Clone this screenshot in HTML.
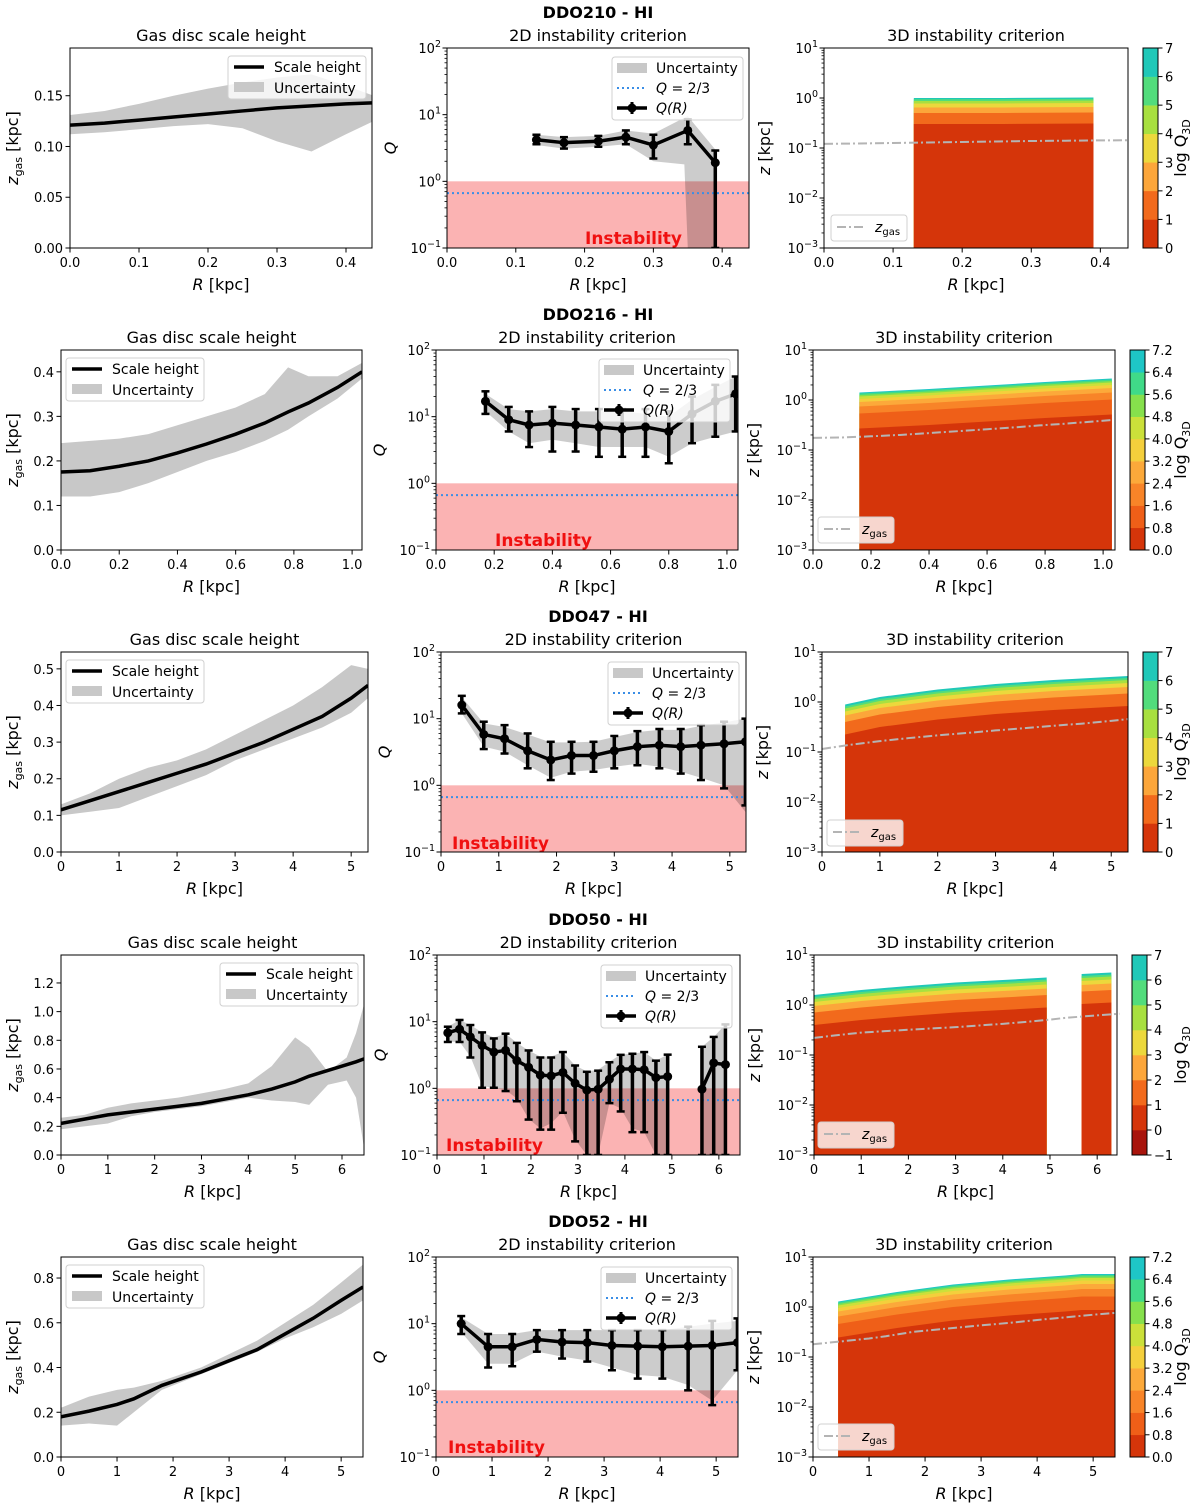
<!DOCTYPE html>
<html><head><meta charset="utf-8">
<style>
html,body{margin:0;padding:0;background:#fff;}
svg{display:block;font-family:"DejaVu Sans","Liberation Sans",sans-serif;}
</style></head>
<body>
<svg id="fig" width="1200" height="1509" viewBox="0 0 1200 1509" xmlns="http://www.w3.org/2000/svg"></svg>
<script>
// ---------- Left panels: gas scale height ----------
const L0_R=[0,0.05,0.1,0.15,0.2,0.25,0.3,0.35,0.4,0.44];
const L0_mid=[0.121,0.123,0.126,0.129,0.132,0.135,0.138,0.140,0.142,0.143];
const L0_hi=[0.131,0.135,0.142,0.150,0.157,0.163,0.168,0.171,0.160,0.150];
const L0_lo=[0.112,0.114,0.117,0.120,0.122,0.118,0.105,0.095,0.112,0.125];
const L1_R=[0,0.1,0.2,0.3,0.4,0.5,0.6,0.7,0.78,0.85,0.95,1.034];
const L1_mid=[0.175,0.178,0.188,0.2,0.218,0.238,0.26,0.285,0.31,0.33,0.365,0.40];
const L1_hi=[0.24,0.245,0.25,0.26,0.28,0.30,0.32,0.35,0.41,0.39,0.39,0.42];
const L1_lo=[0.12,0.12,0.13,0.15,0.175,0.2,0.22,0.245,0.27,0.3,0.34,0.385];
const L2_R=[0,0.5,1,1.5,2,2.5,3,3.5,4,4.5,5,5.29];
const L2_mid=[0.115,0.14,0.165,0.19,0.215,0.24,0.27,0.30,0.335,0.37,0.42,0.455];
const L2_hi=[0.13,0.16,0.20,0.23,0.25,0.28,0.32,0.36,0.40,0.45,0.51,0.50];
const L2_lo=[0.10,0.11,0.12,0.15,0.18,0.21,0.25,0.28,0.31,0.34,0.38,0.42];
const L3_R=[0,0.5,1,1.5,2,2.5,3,3.5,4,4.5,5,5.3,5.7,6.1,6.3,6.47];
const L3_mid=[0.22,0.25,0.28,0.30,0.32,0.34,0.36,0.39,0.42,0.46,0.51,0.55,0.59,0.63,0.65,0.67];
const L3_hi=[0.26,0.28,0.33,0.36,0.38,0.40,0.43,0.46,0.50,0.62,0.82,0.75,0.58,0.68,0.85,1.05];
const L3_lo=[0.18,0.20,0.22,0.27,0.30,0.32,0.34,0.37,0.40,0.38,0.37,0.35,0.49,0.52,0.40,0.05];
const L4_R=[0,0.5,1,1.3,1.8,2.5,3,3.5,4,4.5,5,5.39];
const L4_mid=[0.18,0.205,0.235,0.26,0.32,0.38,0.43,0.48,0.55,0.62,0.70,0.76];
const L4_hi=[0.22,0.27,0.30,0.31,0.34,0.40,0.46,0.52,0.60,0.68,0.78,0.86];
const L4_lo=[0.14,0.15,0.14,0.20,0.30,0.37,0.42,0.47,0.53,0.58,0.64,0.70];

// ---------- Middle panels: Q(R) ----------
const Q0_R=[0.13,0.17,0.22,0.26,0.30,0.345,0.35,0.39];
const Q0_v=[4.2,3.8,4.0,4.6,3.5,null,5.8,1.9];
const Q0_lo=[3.6,3.1,3.3,3.6,2.2,null,3.6,0.1];
const Q0_hi=[5.0,4.6,4.8,5.8,5.0,null,8.5,2.9];
const Q0_bLo=[3.5,3.1,3.3,3.6,2.0,1.8,0.1,0.1];
const Q0_bHi=[5.0,4.6,4.8,5.8,5.2,9.0,9.5,3.0];
const Q1_R=[0.17,0.25,0.32,0.40,0.48,0.56,0.64,0.72,0.80,0.88,0.96,1.03];
const Q1_v=[17,9,7.5,8,7.5,7,6.5,7,6,11,17,22];
const Q1_lo=[11,6,3.5,3,3,2.5,2.5,2.5,2,4,5,6];
const Q1_hi=[24,14,12,14,13,13,13,13,12,20,30,40];
const Q1_bLo=[12,6,4,4.5,4,3.5,3.5,3.5,2.5,4,5,6];
const Q1_bHi=[22,13,12,13,12,12,12,11,10,18,28,40];
const Q2_R=[0.36,0.74,1.1,1.5,1.9,2.26,2.64,3.0,3.4,3.78,4.15,4.5,4.9,5.27];
const Q2_v=[16,5.8,5,3.3,2.4,2.8,2.8,3.3,3.8,4,3.8,4,4.2,4.5];
const Q2_lo=[12,3.5,3,1.8,1.2,1.5,1.6,1.8,2,1.8,1.5,1.2,0.9,0.5];
const Q2_hi=[22,9,8,6,4.5,4.5,4.5,5.5,6.5,7,7,8,9,10];
const Q2_bLo=[12,3.8,3.2,2,1.3,1.6,1.7,1.9,2.1,1.9,1.6,1.3,1,0.4];
const Q2_bHi=[21,8.5,7.5,5.8,4.4,4.4,4.5,5.3,6.3,6.8,6.8,7.8,8.8,10];
const Q3_R=[0.23,0.48,0.71,0.96,1.21,1.46,1.7,1.95,2.2,2.43,2.68,2.94,3.19,3.43,3.67,3.91,4.16,4.41,4.66,4.91,null,5.64,5.89,6.14];
const Q3_v=[6.8,7.7,5.9,4.4,3.5,3.7,2.6,2.07,1.58,1.54,1.73,1.19,0.94,0.97,1.37,1.95,1.95,1.9,1.45,1.5,null,0.97,2.4,2.27];
const Q3_lo=[4.96,4.96,2.9,1.02,1.02,0.91,0.64,0.34,0.24,0.24,0.43,0.16,0.1,0.1,0.6,0.45,0.22,0.22,0.1,0.1,null,0.1,0.1,0.1];
const Q3_hi=[8.4,10.6,8.9,6.9,5.6,6.6,4.8,3.7,2.9,2.9,3.5,2.2,1.77,1.84,2.46,3.18,3.3,3.5,2.6,3.2,null,4.2,5.9,9.1];
const Q3_bLo=[5,5,3,1.1,1,0.95,0.7,0.35,0.25,0.3,0.45,0.17,0.1,0.1,0.6,0.5,0.25,0.22,0.1,0.1,null,0.1,0.1,0.1];
const Q3_bHi=[8.4,10.6,8.9,6.9,5.8,6.6,4.8,3.7,3.0,3.0,3.5,2.2,1.8,1.9,2.5,3.2,3.3,3.5,2.6,3.2,null,4.2,5.9,9.1];
const Q4_R=[0.45,0.93,1.36,1.8,2.25,2.7,3.14,3.6,4.04,4.5,4.93,5.38];
const Q4_v=[10,4.5,4.5,5.8,5.3,5.2,4.7,4.6,4.5,4.6,4.7,5.2];
const Q4_lo=[7,2.2,2.3,3.8,3,2.7,2,1.5,1.5,1,0.6,2];
const Q4_hi=[13,7,7,8,8,8,8,8,8,9,11,12];
const Q4_bLo=[7.5,2.5,2.5,3.8,3.2,2.8,2.2,1.7,1.6,1.2,0.7,2];
const Q4_bHi=[12.5,7,7,8,8,8,8,8,8,9,10,11];

// ---------- Right panels: 3D criterion ----------
const Z0_R=[0.13,0.26,0.39];
const Z0_top=[0.0,0.0,0.01];
const Z0_off=[0.52,0.30,0.19,0.11,0.06,0.025,0];
const Z1_R=[0.16,0.4,0.6,0.8,1.03];
const Z1_top=[0.15,0.22,0.29,0.36,0.43];
const Z1_off=[0.72,0.42,0.28,0.19,0.13,0.08,0.05,0.02,0];
const Z2_R=[0.4,1,2,3,4,5.29];
const Z2_top=[-0.05,0.1,0.25,0.36,0.44,0.52];
const Z2_off=[0.6,0.35,0.22,0.14,0.08,0.04,0];
const Z3_R=[0,1,2,3,4,4.93,null,5.67,6.3];
const Z3_top=[0.2,0.3,0.38,0.45,0.5,0.55,null,0.62,0.65];
const Z3_off=[9,0.6,0.35,0.22,0.14,0.08,0.04,0];
const Z4_R=[0.45,1.5,2.5,3.5,4.5,4.8,5.39];
const Z4_top=[0.11,0.3,0.45,0.55,0.63,0.66,0.66];
const Z4_off=[0.72,0.45,0.3,0.2,0.13,0.08,0.05,0.02,0];

const C7=['#d5350a','#f26a1c','#fca63a','#ecd83c','#a8e040','#52dc7c','#20c8b8'];
const C9=['#d5350a','#ef5f18','#f88428','#fca93a','#f4cf3c','#cbe03a','#86e04c','#40da88','#1ec6c6'];
const C8=['#a8140c','#d5350a','#f26a1c','#fca63a','#ecd83c','#a8e040','#52dc7c','#20c8b8'];
const CB7=['0','1','2','3','4','5','6','7'];
const CB9=['0.0','0.8','1.6','2.4','3.2','4.0','4.8','5.6','6.4','7.2'];
const CB8=['\u22121','0','1','2','3','4','5','6','7'];

const LD=[[L0_R,L0_mid,L0_hi,L0_lo],[L1_R,L1_mid,L1_hi,L1_lo],[L2_R,L2_mid,L2_hi,L2_lo],[L3_R,L3_mid,L3_hi,L3_lo],[L4_R,L4_mid,L4_hi,L4_lo]];
const QD=[[Q0_R,Q0_v,Q0_lo,Q0_hi,Q0_bLo,Q0_bHi],[Q1_R,Q1_v,Q1_lo,Q1_hi,Q1_bLo,Q1_bHi],[Q2_R,Q2_v,Q2_lo,Q2_hi,Q2_bLo,Q2_bHi],[Q3_R,Q3_v,Q3_lo,Q3_hi,Q3_bLo,Q3_bHi],[Q4_R,Q4_v,Q4_lo,Q4_hi,Q4_bLo,Q4_bHi]];
const ZD=[[Z0_R,Z0_top,Z0_off,C7,CB7],[Z1_R,Z1_top,Z1_off,C9,CB9],[Z2_R,Z2_top,Z2_off,C7,CB7],[Z3_R,Z3_top,Z3_off,C8,CB8],[Z4_R,Z4_top,Z4_off,C9,CB9]];

const ROWS=[
 {T:48,title:'DDO210 - HI',
  L:{x0:70,x1:372,xmax:0.4377,ymax:0.197,xt:[0,.1,.2,.3,.4],xd:1,yt:[0,.05,.1,.15],yd:2,leg:[228,56]},
  M:{x0:447,x1:749,xmax:0.439,leg:[612,57],inst:[585,244]},
  R:{x0:824,x1:1128,xmax:0.44,cb:1143,leg:[831,215]}},
 {T:350,title:'DDO216 - HI',
  L:{x0:61,x1:362,xmax:1.034,ymax:0.449,xt:[0,.2,.4,.6,.8,1.0],xd:1,yt:[0,.1,.2,.3,.4],yd:1,leg:[66,358]},
  M:{x0:436,x1:738,xmax:1.038,leg:[599,359],inst:[495,546]},
  R:{x0:813,x1:1115,xmax:1.041,cb:1130,leg:[818,517]}},
 {T:652,title:'DDO47 - HI',
  L:{x0:61,x1:368,xmax:5.29,ymax:0.546,xt:[0,1,2,3,4,5],xd:0,yt:[0,.1,.2,.3,.4,.5],yd:1,leg:[66,660]},
  M:{x0:441,x1:746,xmax:5.28,leg:[608,662],inst:[452,849]},
  R:{x0:822,x1:1128,xmax:5.29,cb:1143,leg:[827,820]}},
 {T:955,title:'DDO50 - HI',
  L:{x0:61,x1:364,xmax:6.47,ymax:1.395,xt:[0,1,2,3,4,5,6],xd:0,yt:[0,.2,.4,.6,.8,1.0,1.2],yd:1,leg:[220,963]},
  M:{x0:437,x1:740,xmax:6.45,leg:[601,965],inst:[446,1151]},
  R:{x0:814,x1:1117,xmax:6.42,cb:1132,leg:[818,1122]}},
 {T:1257,title:'DDO52 - HI',
  L:{x0:61,x1:363,xmax:5.39,ymax:0.894,xt:[0,1,2,3,4,5],xd:0,yt:[0,.2,.4,.6,.8],yd:1,leg:[66,1265]},
  M:{x0:436,x1:738,xmax:5.39,leg:[601,1267],inst:[448,1453]},
  R:{x0:813,x1:1115,xmax:5.39,cb:1130,leg:[818,1424]}}
];

const NS='http://www.w3.org/2000/svg';
const svg=document.getElementById('fig');
function mk(tag,attrs,parent){const e=document.createElementNS(NS,tag);for(const k in attrs)e.setAttribute(k,attrs[k]);(parent||svg).appendChild(e);return e;}
function txt(x,y,s,attrs,parent){const a=Object.assign({x:x,y:y,'font-size':14,fill:'#000'},attrs||{});const t=mk('text',a,parent);t.textContent=s;return t;}
function segs(xs){const out=[];let cur=[];xs.forEach((v,i)=>{if(v===null){if(cur.length)out.push(cur);cur=[];}else cur.push(i);});if(cur.length)out.push(cur);return out;}
function powLabel(x,y,exp,anchor,parent){
  const t=mk('text',{x:x,y:y,'font-size':13,'text-anchor':anchor,fill:'#000'},parent);
  t.appendChild(document.createTextNode('10'));
  const s=mk('tspan',{dy:-6,'font-size':9.5},t);s.textContent=exp<0?'\u2212'+(-exp):String(exp);
  return t;
}
function frame(g,x0,x1,T,B){const r=mk('rect',{x:x0,y:T,width:x1-x0,height:B-T,fill:'none',stroke:'#000','stroke-width':1},g);}
function xTicks(g,sx,ticks,dec,B){
  ticks.forEach(v=>{const x=sx(v);mk('line',{x1:x,x2:x,y1:B,y2:B+4.5,stroke:'#000'},g);
    const t=txt(x,B+19,v.toFixed(dec),{'text-anchor':'middle','font-size':13},g);});
}
function logY(g,x0,lmin,lmax,sy){
  for(let e=lmin;e<=lmax;e++){const y=sy(Math.pow(10,e));mk('line',{x1:x0-4.5,x2:x0,y1:y,y2:y,stroke:'#000'},g);
    const t=powLabel(x0-6,y+5,e,'end',g);
    if(e<lmax)for(let m=2;m<10;m++){const yy=sy(m*Math.pow(10,e));mk('line',{x1:x0-2.5,x2:x0,y1:yy,y2:yy,stroke:'#000','stroke-width':0.8},g);}}
}
function xlabel(g,cx,B,s){const t=mk('text',{x:cx,y:B+42,'font-size':16,'text-anchor':'middle'},g);
  const i=mk('tspan',{'font-style':'italic'},t);i.textContent=s;const r=mk('tspan',{},t);r.textContent=' [kpc]';
  }
function ptitle(g,cx,T,s){const t=txt(cx,T-7,s,{'text-anchor':'middle','font-size':16},g);}

ROWS.forEach((row,ri)=>{
  const T=row.T,B=T+200;
  const rowG=mk('g',{});
  
  
  const rt=txt(598,T-30,row.title,{'text-anchor':'middle','font-size':16,'font-weight':'bold'},rowG);
  

  // ===== LEFT =====
  {const c=row.L,d=LD[ri];const g=mk('g',{},rowG);
   
   const sx=v=>c.x0+v/c.xmax*(c.x1-c.x0), sy=v=>B-v/c.ymax*(B-T);
   const clip='clipL'+ri;const cp=mk('clipPath',{id:clip},g);mk('rect',{x:c.x0,y:T,width:c.x1-c.x0,height:B-T},cp);
   const R=d[0];let pts=R.map((r,i)=>sx(r)+','+sy(d[2][i]));for(let i=R.length-1;i>=0;i--)pts.push(sx(R[i])+','+sy(d[3][i]));
   const band=mk('polygon',{points:pts.join(' '),fill:'#c8c8c8','clip-path':'url(#'+clip+')'},g);
   
   const line=mk('polyline',{points:R.map((r,i)=>sx(r)+','+sy(d[1][i])).join(' '),fill:'none',stroke:'#000','stroke-width':3.5,'clip-path':'url(#'+clip+')'},g);
   
   frame(g,c.x0,c.x1,T,B);xTicks(g,sx,c.xt,c.xd,B);
   c.yt.forEach(v=>{const y=sy(v);mk('line',{x1:c.x0-4.5,x2:c.x0,y1:y,y2:y,stroke:'#000'},g);
     const t=txt(c.x0-7,y+5,v.toFixed(c.yd),{'text-anchor':'end','font-size':13},g);});
   xlabel(g,(c.x0+c.x1)/2,B,'R');ptitle(g,(c.x0+c.x1)/2,T,'Gas disc scale height');
   const yl=mk('text',{x:0,y:0,'font-size':16,'text-anchor':'middle',transform:'translate(18,'+(T+100)+') rotate(-90)'},g);
   const a=mk('tspan',{'font-style':'italic'},yl);a.textContent='z';const b=mk('tspan',{'font-size':11,dy:4},yl);b.textContent='gas';const cc=mk('tspan',{dy:-4},yl);cc.textContent=' [kpc]';
   
   const lg=mk('g',{transform:'translate('+c.leg[0]+','+c.leg[1]+')'},g);
   mk('rect',{x:0,y:0,width:138,height:43,rx:3,fill:'#fff','fill-opacity':0.8,stroke:'#d0d0d0'},lg);
   mk('line',{x1:6,x2:36,y1:11,y2:11,stroke:'#000','stroke-width':3.5},lg);
   const e1=txt(46,16,'Scale height',{'font-size':14},lg);
   mk('rect',{x:6,y:26,width:30,height:10,fill:'#c8c8c8'},lg);
   const e2=txt(46,37,'Uncertainty',{'font-size':14},lg);
  }

  // ===== MIDDLE =====
  {const c=row.M,d=QD[ri];const g=mk('g',{},rowG);
   
   const sx=v=>c.x0+v/c.xmax*(c.x1-c.x0), sy=v=>B-(Math.log10(v)+1)/3*(B-T);
   const clip='clipM'+ri;const cp=mk('clipPath',{id:clip},g);mk('rect',{x:c.x0,y:T,width:c.x1-c.x0,height:B-T},cp);
   const pink=mk('rect',{x:c.x0,y:sy(1),width:c.x1-c.x0,height:B-sy(1),fill:'#fbb3b3'},g);
   
   const R=d[0];
   segs(R).forEach(ix=>{let pts=ix.map(i=>sx(R[i])+','+sy(d[5][i]));ix.slice().reverse().forEach(i=>pts.push(sx(R[i])+','+sy(d[4][i])));
     const b=mk('polygon',{points:pts.join(' '),fill:'#000','fill-opacity':0.2,'clip-path':'url(#'+clip+')'},g);
     });
   const ql=mk('line',{x1:c.x0,x2:c.x1,y1:sy(2/3),y2:sy(2/3),stroke:'#3a8ee6','stroke-width':2,'stroke-dasharray':'2,3'},g);
   
   const eg=mk('g',{'clip-path':'url(#'+clip+')'},g);
   const V=d[1];
   R.forEach((r,i)=>{if(r===null||V[i]===null)return;const x=sx(r);
     const eb=mk('line',{x1:x,x2:x,y1:sy(d[2][i]),y2:sy(d[3][i]),stroke:'#000','stroke-width':3.5},eg);
     
     mk('line',{x1:x-4,x2:x+4,y1:sy(d[2][i]),y2:sy(d[2][i]),stroke:'#000','stroke-width':2.5},eg);
     mk('line',{x1:x-4,x2:x+4,y1:sy(d[3][i]),y2:sy(d[3][i]),stroke:'#000','stroke-width':2.5},eg);});
   segs(R).forEach(ix=>{const jx=ix.filter(i=>V[i]!==null);const pl=mk('polyline',{points:jx.map(i=>sx(R[i])+','+sy(V[i])).join(' '),fill:'none',stroke:'#000','stroke-width':3.5},eg);
     });
   R.forEach((r,i)=>{if(r===null||V[i]===null)return;const p=mk('circle',{cx:sx(r),cy:sy(V[i]),r:4.5,fill:'#000'},eg);
     });
   const it=txt(c.inst[0],c.inst[1],'Instability',{'font-size':17,'font-weight':'bold',fill:'#f01010'},g);
   
   frame(g,c.x0,c.x1,T,B);xTicks(g,sx,row.L.xt,row.L.xd,B);logY(g,c.x0,-1,2,sy);
   xlabel(g,(c.x0+c.x1)/2,B,'R');ptitle(g,(c.x0+c.x1)/2,T,'2D instability criterion');
   const yl=txt(0,0,'Q',{'font-size':16,'font-style':'italic','text-anchor':'middle',transform:'translate('+(c.x0-51)+','+(T+100)+') rotate(-90)'},g);
   
   const lg=mk('g',{transform:'translate('+c.leg[0]+','+c.leg[1]+')'},g);
   mk('rect',{x:0,y:0,width:131,height:63,rx:3,fill:'#fff','fill-opacity':0.8,stroke:'#d0d0d0'},lg);
   mk('rect',{x:5,y:6,width:30,height:10,fill:'#c8c8c8'},lg);
   const e1=txt(44,16,'Uncertainty',{'font-size':14},lg);
   mk('line',{x1:5,x2:35,y1:31,y2:31,stroke:'#3a8ee6','stroke-width':2,'stroke-dasharray':'2,3'},lg);
   const e2=mk('text',{x:44,y:36,'font-size':14},lg);const qa=mk('tspan',{'font-style':'italic'},e2);qa.textContent='Q';const qb=mk('tspan',{},e2);qb.textContent=' = 2/3';
   
   mk('line',{x1:5,x2:35,y1:51,y2:51,stroke:'#000','stroke-width':3.5},lg);mk('line',{x1:20,x2:20,y1:45,y2:57,stroke:'#000','stroke-width':3},lg);mk('circle',{cx:20,cy:51,r:4.5,fill:'#000'},lg);
   const e3=txt(44,56,'Q(R)',{'font-size':14,'font-style':'italic'},lg);
  }

  // ===== RIGHT =====
  {const c=row.R,d=ZD[ri],ld=LD[ri];const g=mk('g',{},rowG);
   
   const sx=v=>c.x0+v/c.xmax*(c.x1-c.x0), syl=l=>B-(l+3)/4*(B-T), sy=v=>syl(Math.log10(v));
   const R=d[0],top=d[1],off=d[2],cols=d[3];
   segs(R).forEach(ix=>{
     for(let k=off.length-1;k>=0;k--){
       const pts=ix.map(i=>sx(R[i])+','+syl(Math.max(-3,top[i]-off[k])));
       pts.push(sx(R[ix[ix.length-1]])+','+B);pts.push(sx(R[ix[0]])+','+B);
       const p=mk('polygon',{points:pts.join(' '),fill:cols[k]},g);
       }
   });
   const zl=mk('polyline',{points:ld[0].map((r,i)=>sx(r)+','+sy(ld[1][i])).join(' '),fill:'none',stroke:'#b4b4b4','stroke-width':2,'stroke-dasharray':'9,3,2,3'},g);
   
   frame(g,c.x0,c.x1,T,B);xTicks(g,sx,row.L.xt,row.L.xd,B);logY(g,c.x0,-3,1,sy);
   xlabel(g,(c.x0+c.x1)/2,B,'R');ptitle(g,(c.x0+c.x1)/2,T,'3D instability criterion');
   const yl=mk('text',{x:0,y:0,'font-size':16,'text-anchor':'middle',transform:'translate('+(c.x0-54)+','+(T+100)+') rotate(-90)'},g);
   const ya=mk('tspan',{'font-style':'italic'},yl);ya.textContent='z';const yb=mk('tspan',{},yl);yb.textContent=' [kpc]';
   
   const lg=mk('g',{transform:'translate('+c.leg[0]+','+c.leg[1]+')'},g);
   mk('rect',{x:0,y:0,width:76,height:26,rx:3,fill:'#fff','fill-opacity':0.8,stroke:'#d0d0d0'},lg);
   mk('line',{x1:6,x2:34,y1:12,y2:12,stroke:'#b4b4b4','stroke-width':2,'stroke-dasharray':'9,3,2,3'},lg);
   const lt=mk('text',{x:44,y:17,'font-size':14},lg);const la=mk('tspan',{'font-style':'italic'},lt);la.textContent='z';const lb=mk('tspan',{'font-size':10,dy:3},lt);lb.textContent='gas';
   
   // colorbar
   const cb=mk('g',{},g);
   const n=cols.length,h=(B-T)/n;
   cols.forEach((col,k)=>{mk('rect',{x:c.cb,y:B-(k+1)*h,width:15,height:h+0.3,fill:col},cb);});
   mk('rect',{x:c.cb,y:T,width:15,height:B-T,fill:'none',stroke:'#000'},cb);
   d[4].forEach((lab,k)=>{const y=B-k*h;mk('line',{x1:c.cb+15,x2:c.cb+19.5,y1:y,y2:y,stroke:'#000'},cb);
     const t=txt(c.cb+22,y+5,lab,{'font-size':13},cb);});
   const cl=mk('text',{x:0,y:0,'font-size':16,'text-anchor':'middle',transform:'translate(1186,'+(T+100)+') rotate(-90)'},cb);
   const c1=mk('tspan',{},cl);c1.textContent='log Q';const c2=mk('tspan',{'font-size':11,dy:4},cl);c2.textContent='3D';
   
  }
});
</script>
</body></html>
